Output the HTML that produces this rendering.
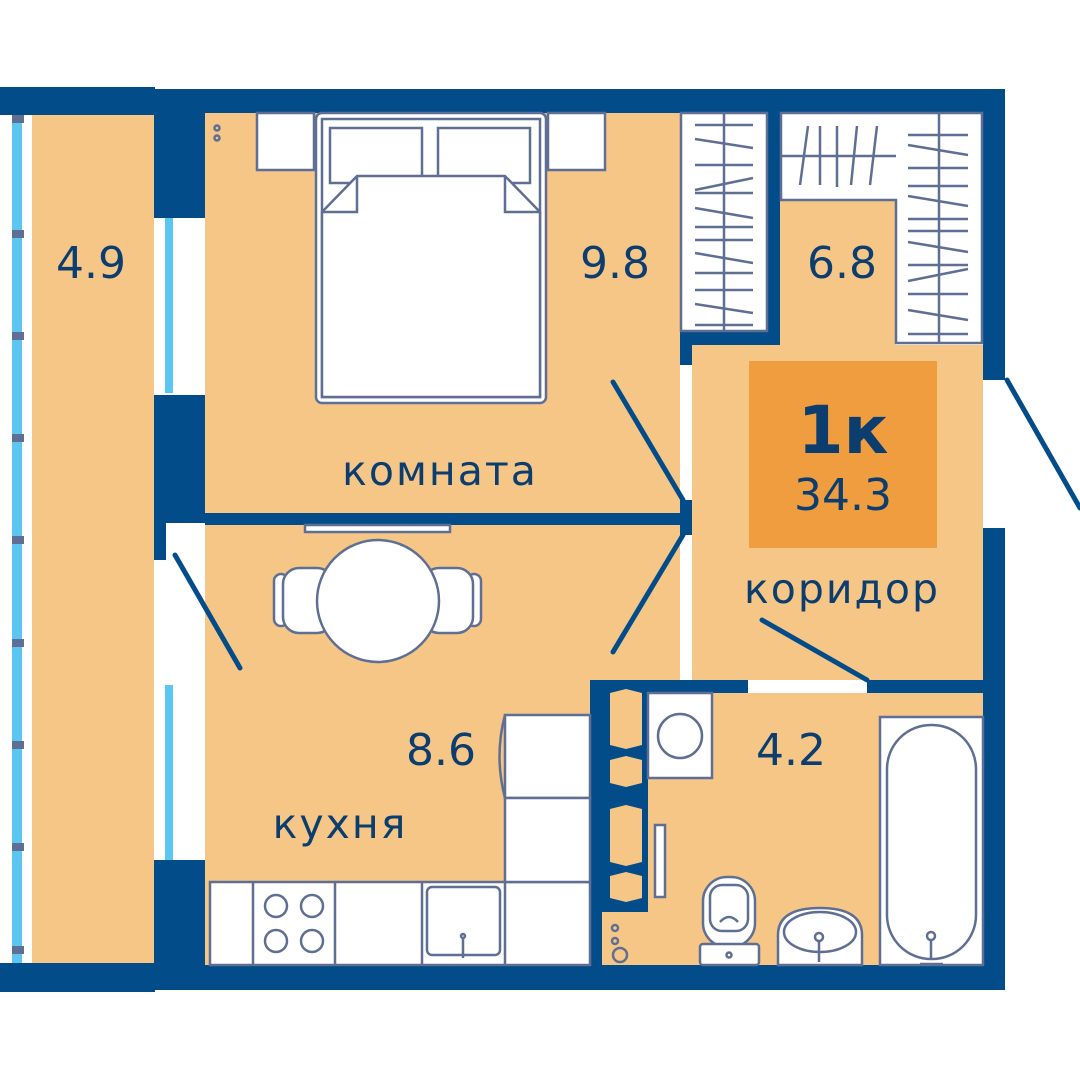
<!DOCTYPE html><html><head><meta charset="utf-8"><style>html,body{margin:0;padding:0;background:#fff}svg{display:block}text{font-family:"DejaVu Sans","Liberation Sans",sans-serif;fill:#0b3d6f}</style></head><body>
<svg width="1080" height="1080" viewBox="0 0 1080 1080" xmlns="http://www.w3.org/2000/svg">
<g fill="#F6C687">
<rect x="32" y="115" width="122" height="848"/>
<rect x="205" y="113" width="475" height="400"/>
<rect x="205" y="525" width="475" height="155"/>
<rect x="205" y="680" width="385" height="285"/>
<rect x="692" y="345" width="291" height="335"/>
<rect x="780" y="200" width="115" height="145"/>
<rect x="648" y="693" width="335" height="272"/>
</g>
<rect x="12" y="115" width="10" height="848" fill="#5CC6F2"/>
<g fill="#5F6F94">
<rect x="12" y="115" width="12" height="8"/><rect x="12" y="230" width="12" height="8"/><rect x="12" y="332" width="12" height="8"/><rect x="12" y="434" width="12" height="8"/><rect x="12" y="536" width="12" height="8"/><rect x="12" y="639" width="12" height="8"/><rect x="12" y="741" width="12" height="8"/><rect x="12" y="843" width="12" height="8"/><rect x="12" y="946" width="12" height="8"/>
</g>
<rect x="165" y="218" width="8" height="175" fill="#5CC6F2"/>
<rect x="165" y="685" width="8" height="180" fill="#5CC6F2"/>
<g fill="#034C8A">
<rect x="0" y="87" width="155" height="28"/>
<rect x="154" y="89" width="851" height="24"/>
<rect x="983" y="89" width="22" height="291"/>
<rect x="983" y="528" width="22" height="462"/>
<rect x="154" y="965" width="851" height="25"/>
<rect x="0" y="963" width="155" height="29"/>
<rect x="154" y="89" width="51" height="129"/>
<rect x="154" y="395" width="51" height="128"/>
<rect x="154" y="513" width="12" height="47"/>
<rect x="154" y="860" width="51" height="105"/>
<rect x="205" y="513" width="487" height="12"/>
<rect x="680" y="500" width="12" height="35"/>
<rect x="680" y="113" width="100" height="232"/>
<rect x="680" y="335" width="12" height="30"/>
<rect x="590" y="680" width="158" height="13"/>
<rect x="867" y="680" width="116" height="13"/>
<rect x="590" y="680" width="58" height="232"/>
<rect x="590" y="910" width="12" height="55"/>
</g>
<g fill="#F6C687">
<polygon points="610,693 626,689 642,693 642,745 626,749 610,745"/>
<polygon points="610,760 626,756 642,760 642,783 626,787 610,783"/>
<polygon points="610,809 626,805 642,809 642,862 626,866 610,862"/>
<polygon points="610,876 626,872 642,876 642,898 626,902 610,898"/>
<rect x="602" y="912" width="48" height="53"/>
</g>
<g fill="#fff" stroke="#5F6F94" stroke-width="2.5">
<rect x="681" y="113" width="86" height="218"/>
<path d="M781 113 H982 V343 H896 V200 H781 Z"/>
<rect x="257" y="113" width="57" height="57"/>
<rect x="548" y="113" width="57" height="57"/>
<rect x="316" y="113" width="230" height="290" rx="6"/>
<rect x="322" y="119" width="218" height="278"/>
<rect x="330" y="128" width="92" height="55"/>
<rect x="438" y="128" width="92" height="55"/>
<path d="M322 212 L357 176 H505 L540 212 V397 H322 Z"/>
<path d="M322 212 H357 V176 M540 212 H505 V176" fill="none"/>
<rect x="305" y="525" width="145" height="7"/>
<rect x="274" y="574" width="14" height="52" rx="7"/>
<rect x="467" y="574" width="14" height="52" rx="7"/>
<rect x="283" y="568" width="50" height="65" rx="16"/>
<rect x="423" y="568" width="50" height="65" rx="16"/>
<circle cx="378" cy="601" r="61"/>
<rect x="210" y="882" width="380" height="83"/>
<path d="M253 882 V965 M335 882 V965 M422 882 V965 M505 882 V965" fill="none"/>
<rect x="427" y="887" width="73" height="68" rx="5"/>
<rect x="505" y="715" width="85" height="83"/>
<rect x="505" y="798" width="85" height="84"/>
<path d="M505 715 Q494 756 505 798" fill="none"/>
<rect x="648" y="693" width="64" height="85"/>
<circle cx="680" cy="736" r="22"/>
<rect x="655" y="825" width="10" height="72"/>
<rect x="703" y="877" width="52" height="70" rx="24"/>
<rect x="710" y="885" width="38" height="46" rx="12"/>
<rect x="700" y="944" width="59" height="21" rx="3"/>
<path d="M778 965 V935 Q778 908 820 908 Q862 908 862 935 V965 Z"/>
<ellipse cx="820" cy="932" rx="36" ry="20"/>
<rect x="880" y="717" width="103" height="248"/>
<rect x="887" y="725" width="89" height="234" rx="44"/>
</g>
<g fill="none" stroke="#5F6F94" stroke-width="2.5">
<circle cx="276" cy="906" r="11"/><circle cx="312" cy="906" r="11"/><circle cx="276" cy="941" r="11"/><circle cx="312" cy="941" r="11"/>
<circle cx="217" cy="128" r="2.5"/><circle cx="217" cy="138" r="2.5"/>
<circle cx="615" cy="928" r="3"/><circle cx="615" cy="941" r="3"/><circle cx="620" cy="955" r="7"/>
<circle cx="729" cy="955" r="2.5"/><circle cx="819" cy="937" r="4"/><circle cx="931" cy="936" r="4"/><circle cx="463" cy="936" r="2"/>
<path d="M720 922 Q729 912 738 922"/>
<path d="M463 938 V958 M819 942 V962 M931 941 V958 M920 964 H943"/>
<line x1="724" y1="114" x2="724" y2="331"/>
<line x1="939" y1="114" x2="939" y2="343"/>
<line x1="781" y1="156" x2="896" y2="156"/>
<path d="M695 125H753M695 139L753 148M695 165H753M695 190L753 178M695 193H753M695 208L753 218M695 227H753M695 240H753M695 253L753 263M695 273H753M695 290H753M695 304L753 313M695 325H753"/>
<path d="M808 126L800 185M820 126V185M837 126V187M857 126L851 185M877 126L870 185"/>
<path d="M908 135H968M908 145L968 155M908 168H968M908 186H968M908 196L968 206M908 219H968M908 231H968M908 242L968 252M908 265H968M908 281L968 269M908 294H968M908 310L968 320M908 334H968"/>
</g>
<g stroke="#034C8A" stroke-width="5" stroke-linecap="round" fill="none">
<line x1="613" y1="382" x2="683" y2="500"/>
<line x1="613" y1="652" x2="683" y2="535"/>
<line x1="175" y1="555" x2="240" y2="668"/>
<line x1="762" y1="620" x2="867" y2="680"/>
<line x1="1007" y1="380" x2="1080" y2="508"/>
</g>
<rect x="749" y="361" width="188" height="187" fill="#F09D40"/>
<g text-anchor="middle" font-size="44">
<text x="91" y="278">4.9</text>
<text x="615" y="278">9.8</text>
<text x="842" y="278">6.8</text>
<text x="440" y="485" font-size="41" letter-spacing="2">комната</text>
<text x="842" y="603" font-size="41" letter-spacing="2">коридор</text>
<text x="441" y="765">8.6</text>
<text x="340" y="838" font-size="41" letter-spacing="2">кухня</text>
<text x="791" y="765">4.2</text>
<text x="843" y="453" font-size="66" font-weight="bold">1к</text>
<text x="843" y="510" font-size="44">34.3</text>
</g>
</svg>
</body></html>
